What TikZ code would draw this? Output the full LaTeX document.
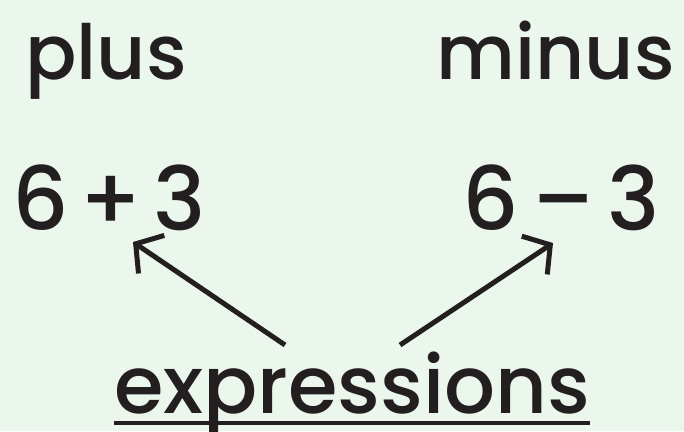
\documentclass[tikz,border=0pt]{standalone}
\usepackage{fontspec}
\setmainfont{Poppins Medium}
\usetikzlibrary{arrows.meta}
\definecolor{bgmint}{HTML}{EBF6EC}
\definecolor{ink}{HTML}{231F20}
\begin{document}
\begin{tikzpicture}[x=1pt,y=1pt,
  word/.style={inner sep=0pt,text=ink,font=\fontsize{76}{90}\selectfont},
  numeral/.style={inner sep=0pt,text=ink,font=\fontsize{88}{100}\selectfont},
  pointer/.style={draw=ink,line width=5pt,-{Straight Barb[length=19pt,width=46pt]}}]
\fill[bgmint] (0,0) rectangle (684,431);
\useasboundingbox (0,0) rectangle (684,431);
\node[word,anchor=base west] (plus) at (25,351) {plus};
\node[word,anchor=base east] (minus) at (675,351) {minus};
\node[numeral,anchor=base west] (sum) at (12,200) {6\hspace{11pt}+\hspace{11pt}3};
\node[numeral,anchor=base east] (diff) at (660,200) {6\hspace{13pt}–\hspace{13pt}3};
\node[word,anchor=base,font=\fontsize{80}{90}\selectfont] (expr) at (352,18) {expressions};
\draw[ink,line width=3.5pt] ([yshift=-10pt]expr.base west) -- ([yshift=-10pt]expr.base east);
\coordinate (lfoot) at (285,86);
\coordinate (ltip) at (133,189);
\coordinate (rfoot) at (400,86);
\coordinate (rtip) at (553,188);
\draw[pointer] (lfoot) -- (ltip);
\draw[pointer] (rfoot) -- (rtip);
\end{tikzpicture}
\end{document}
